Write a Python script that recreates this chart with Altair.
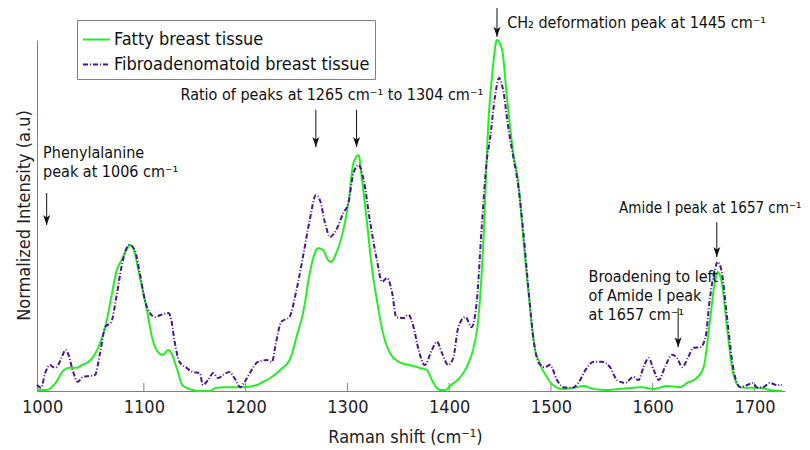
import altair as alt
import pandas as pd

FONT = "DejaVu Sans Condensed, DejaVu Sans"

fatty_x = [995, 1004, 1014, 1020, 1027, 1034, 1039, 1044, 1050, 1057, 1063, 1068, 1073, 1078, 1083, 1086,
           1089, 1096, 1103, 1108, 1114, 1119, 1124, 1127, 1132, 1138, 1145, 1155, 1165, 1171, 1184, 1197,
           1211, 1217, 1224, 1234, 1244, 1250, 1257, 1263, 1268, 1271, 1276, 1281, 1284, 1289, 1296, 1301,
           1306, 1311, 1314, 1319, 1324, 1329, 1335, 1342, 1348, 1353, 1361, 1371, 1378, 1384, 1391, 1396,
           1402, 1411, 1419, 1424, 1429, 1434, 1438, 1443, 1447, 1452, 1457, 1463, 1468, 1473, 1478, 1484,
           1489, 1496, 1502, 1512, 1522, 1532, 1542, 1555, 1568, 1581, 1588, 1601, 1614, 1627, 1634, 1643,
           1650, 1656, 1661, 1664, 1668, 1673, 1679, 1686, 1696, 1706, 1715, 1727]
fatty_y = [0.003, 0.003, 0.026, 0.055, 0.066, 0.066, 0.074, 0.080, 0.097, 0.137, 0.194, 0.268, 0.339, 0.373, 0.402, 0.416,
           0.410, 0.325, 0.231, 0.154, 0.111, 0.103, 0.117, 0.108, 0.068, 0.017, 0.006, 0.000, 0.000, 0.009, 0.011, 0.011,
           0.017, 0.026, 0.037, 0.060, 0.094, 0.154, 0.231, 0.336, 0.393, 0.407, 0.402, 0.373, 0.368, 0.393, 0.459, 0.536,
           0.650, 0.672, 0.610, 0.487, 0.353, 0.259, 0.165, 0.108, 0.088, 0.080, 0.074, 0.066, 0.060, 0.026, 0.003, 0.003,
           0.017, 0.040, 0.080, 0.125, 0.217, 0.450, 0.735, 0.923, 1.000, 0.972, 0.829, 0.678, 0.593, 0.430, 0.279, 0.125,
           0.080, 0.040, 0.017, 0.006, 0.009, 0.014, 0.006, 0.003, 0.006, 0.009, 0.011, 0.006, 0.014, 0.011, 0.023, 0.037,
           0.068, 0.194, 0.308, 0.339, 0.308, 0.182, 0.051, 0.011, 0.009, 0.009, 0.003, 0.000]

fibro_x = [995, 999, 1003, 1008, 1011, 1014, 1019, 1023, 1026, 1030, 1035, 1040, 1047, 1052, 1057, 1062,
           1068, 1073, 1078, 1083, 1086, 1091, 1096, 1101, 1106, 1111, 1117, 1124, 1127, 1130, 1135, 1142,
           1148, 1155, 1158, 1163, 1168, 1173, 1178, 1184, 1189, 1195, 1199, 1206, 1212, 1221, 1226, 1229,
           1235, 1243, 1250, 1257, 1263, 1269, 1273, 1278, 1283, 1289, 1296, 1301, 1306, 1311, 1316, 1322,
           1329, 1334, 1339, 1344, 1348, 1355, 1360, 1365, 1370, 1376, 1383, 1388, 1393, 1399, 1404, 1409,
           1416, 1422, 1427, 1432, 1437, 1440, 1445, 1449, 1453, 1458, 1463, 1468, 1473, 1478, 1483, 1488,
           1494, 1499, 1506, 1512, 1521, 1527, 1534, 1542, 1550, 1558, 1565, 1573, 1581, 1586, 1591, 1596,
           1601, 1606, 1612, 1619, 1624, 1629, 1635, 1640, 1647, 1652, 1656, 1661, 1664, 1668, 1673, 1679,
           1686, 1693, 1698, 1703, 1709, 1715, 1722, 1727]
fibro_y = [0.017, 0.009, 0.051, 0.074, 0.068, 0.068, 0.094, 0.117, 0.103, 0.060, 0.026, 0.040, 0.043, 0.046, 0.108, 0.182,
           0.197, 0.268, 0.353, 0.407, 0.416, 0.402, 0.336, 0.259, 0.222, 0.211, 0.217, 0.222, 0.202, 0.145, 0.083, 0.066,
           0.054, 0.051, 0.017, 0.031, 0.051, 0.037, 0.046, 0.054, 0.037, 0.011, 0.026, 0.060, 0.083, 0.088, 0.083, 0.125,
           0.197, 0.211, 0.288, 0.393, 0.487, 0.558, 0.544, 0.479, 0.439, 0.459, 0.507, 0.536, 0.621, 0.644, 0.601, 0.487,
           0.373, 0.311, 0.322, 0.279, 0.211, 0.208, 0.217, 0.182, 0.117, 0.074, 0.117, 0.140, 0.108, 0.074, 0.094, 0.182,
           0.211, 0.182, 0.251, 0.467, 0.658, 0.715, 0.838, 0.892, 0.858, 0.752, 0.667, 0.581, 0.450, 0.288, 0.145, 0.080,
           0.068, 0.074, 0.031, 0.011, 0.009, 0.023, 0.060, 0.083, 0.083, 0.068, 0.031, 0.023, 0.040, 0.031, 0.068, 0.094,
           0.060, 0.031, 0.068, 0.103, 0.094, 0.068, 0.097, 0.123, 0.125, 0.154, 0.259, 0.345, 0.368, 0.336, 0.211, 0.068,
           0.011, 0.017, 0.023, 0.009, 0.011, 0.023, 0.017, 0.017]

series_names = ["Fatty breast tissue", "Fibroadenomatoid breast tissue"]
series_colors = ["#22ee22", "#4b1497"]
series_dash = [[1, 0], [5, 2, 1, 2]]

tick_values = [1000, 1100, 1200, 1300, 1400, 1500, 1600, 1700]
inner_ticks = [1100, 1200, 1300, 1400, 1500, 1600, 1700]

# annotations: text lines (x, y, label)
ann_x = [1001, 1001, 1136, 1457, 1537, 1537, 1537]
ann_y = [0.678, 0.624, 0.843, 1.048, 0.325, 0.271, 0.217]
ann_text = ["Phenylalanine", "peak at 1006 cm\u207b\u00b9",
            "Ratio of peaks at 1265 cm\u207b\u00b9 to 1304 cm\u207b\u00b9",
            "CH\u2082 deformation peak at 1445 cm\u207b\u00b9",
            "Broadening to left", "of Amide I peak", "at 1657 cm\u207b\u00b9"]
# label near the right edge (set slightly smaller so it fits)
edge_x = [1567]
edge_y = [0.521]
edge_text = ["Amide I peak at 1657 cm\u207b\u00b9"]

# arrows: x, start y, tip y
arr_x = [1004.5, 1269, 1309, 1447, 1663, 1625]
arr_y0 = [0.564, 0.801, 0.801, 1.091, 0.481, 0.236]
arr_y1 = [0.473, 0.695, 0.695, 1.009, 0.382, 0.125]

df = pd.concat([
    pd.DataFrame({"x": fatty_x, "y": fatty_y, "series": series_names[0]}),
    pd.DataFrame({"x": fibro_x, "y": fibro_y, "series": series_names[1]}),
])
ann_df = pd.DataFrame({"x": ann_x, "y": ann_y, "t": ann_text})
edge_df = pd.DataFrame({"x": edge_x, "y": edge_y, "t": edge_text})
arr_df = pd.DataFrame({"x": arr_x, "y0": arr_y0, "y1": arr_y1})
tick_df = pd.DataFrame({"x": inner_ticks, "y0": [0.0] * len(inner_ticks), "y1": [0.023] * len(inner_ticks)})

xscale = alt.Scale(domain=[995, 1730], nice=False, zero=False)
yscale = alt.Scale(domain=[0, 1], nice=False, zero=False)

xaxis = alt.Axis(values=tick_values, format="d", ticks=False, grid=False, labelFontSize=18, labelFont=FONT,
                 labelColor="#222222", labelPadding=7, domainColor="#808080",
                 title="Raman shift (cm\u207b\u00b9)", titleFont=FONT, titleFontSize=18,
                 titleFontWeight="normal", titleColor="#222222", titleX=368, titleY=46,
                 titleBaseline="middle", titleAlign="center")
yaxis = alt.Axis(labels=False, ticks=False, grid=False, domainColor="#808080",
                 title="Normalized Intensity (a.u)", titleFont=FONT, titleFontSize=18,
                 titleFontWeight="normal", titleColor="#222222", titleAngle=270,
                 titleX=-13, titleY=175, titleBaseline="middle", titleAlign="center")

legend = alt.Legend(orient="none", legendX=40, legendY=-20, title=None, strokeColor="#808080",
                    fillColor="white", padding=5, labelFont=FONT, labelFontSize=18, labelLimit=0,
                    labelColor="#111111", symbolType="stroke", symbolSize=729,
                    symbolStrokeWidth=2, rowPadding=1, labelOffset=3)

lines = alt.Chart(df).mark_line(strokeWidth=2, interpolate="monotone").encode(
    x=alt.X("x:Q", scale=xscale, axis=xaxis),
    y=alt.Y("y:Q", scale=yscale, axis=yaxis),
    color=alt.Color("series:N", scale=alt.Scale(domain=series_names, range=series_colors), legend=legend),
    strokeDash=alt.StrokeDash("series:N", scale=alt.Scale(domain=series_names, range=series_dash), legend=legend),
    order=alt.Order("series:N", sort="descending"),
)

ticks = alt.Chart(tick_df).mark_rule(color="#808080", strokeWidth=1).encode(
    x=alt.X("x:Q", scale=xscale), y=alt.Y("y0:Q", scale=yscale), y2="y1:Q")

arrows = alt.Chart(arr_df).mark_rule(color="#111111", strokeWidth=1).encode(
    x=alt.X("x:Q", scale=xscale), y=alt.Y("y0:Q", scale=yscale), y2="y1:Q")

heads = alt.Chart(arr_df).mark_point(
    shape="M0,0L-0.35,-1L0,-0.75L0.35,-1Z", filled=True, color="#111111", size=400, opacity=1
).encode(x=alt.X("x:Q", scale=xscale), y=alt.Y("y1:Q", scale=yscale))

texts = alt.Chart(ann_df).mark_text(align="left", baseline="middle", font=FONT, fontSize=16,
                                    color="#111111").encode(
    x=alt.X("x:Q", scale=xscale), y=alt.Y("y:Q", scale=yscale), text="t:N")

edge_texts = alt.Chart(edge_df).mark_text(align="left", baseline="middle", font=FONT, fontSize=15,
                                          color="#111111").encode(
    x=alt.X("x:Q", scale=xscale), y=alt.Y("y:Q", scale=yscale), text="t:N")

chart = alt.layer(ticks, lines, arrows, heads, texts, edge_texts).properties(
    width=748, height=351,
    padding={"left": 37, "top": 40, "right": 25, "bottom": 59},
    autosize=alt.AutoSizeParams(type="none"),
    background="white",
).configure_view(stroke=None)

chart.save("out.html", embed_options={"renderer": "svg", "actions": False})
